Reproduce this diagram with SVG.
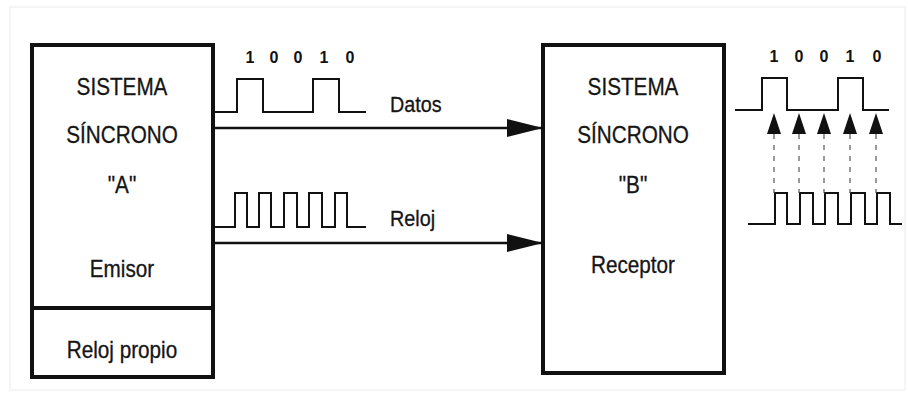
<svg xmlns="http://www.w3.org/2000/svg" width="908" height="393" viewBox="0 0 908 393">
<defs>
<style>
.t{font-family:"Liberation Sans",Arial,sans-serif;font-size:23px;fill:#151515;text-anchor:middle;stroke:#151515;stroke-width:0.3}
.l{font-family:"Liberation Sans",Arial,sans-serif;font-size:22px;fill:#151515;stroke:#151515;stroke-width:0.3}
.d{font-family:"Liberation Sans",Arial,sans-serif;font-size:16px;font-weight:bold;fill:#111;text-anchor:middle}
.box{fill:#fff;stroke:#111;stroke-width:4}
.w{fill:none;stroke:#111;stroke-width:2}
.c{fill:none;stroke:#111;stroke-width:2.5}
.dash{fill:none;stroke:#555;stroke-width:1.2;stroke-dasharray:5 6}
</style>
<marker id="ah" markerWidth="36" markerHeight="20" refX="36" refY="10" orient="auto" markerUnits="userSpaceOnUse">
<path d="M0,1 L36,10 L0,19 Z" fill="#111"/>
</marker>
</defs>
<rect x="0" y="0" width="908" height="393" fill="#fff"/>
<rect x="10" y="7" width="895" height="383" fill="none" stroke="#ececec" stroke-width="1"/>

<g id="sistemaA">
<rect class="box" x="32" y="45" width="181" height="332"/>
<line x1="32" y1="308" x2="213" y2="308" stroke="#111" stroke-width="4"/>
<text class="t" transform="translate(122,95) scale(0.9,1)">SISTEMA</text>
<text class="t" transform="translate(122,143) scale(0.9,1)">SÍNCRONO</text>
<text class="t" transform="translate(122,193) scale(0.9,1)">"A"</text>
<text class="t" transform="translate(122,277) scale(0.9,1)">Emisor</text>
<text class="t" transform="translate(122,358) scale(0.9,1)">Reloj propio</text>
</g>

<g id="sistemaB">
<rect class="box" x="543" y="45" width="181" height="328"/>
<text class="t" transform="translate(633,95) scale(0.9,1)">SISTEMA</text>
<text class="t" transform="translate(633,143) scale(0.9,1)">SÍNCRONO</text>
<text class="t" transform="translate(633,193) scale(0.9,1)">"B"</text>
<text class="t" transform="translate(633,273) scale(0.9,1)">Receptor</text>
</g>

<g id="senalDatos">
<text class="d" x="250" y="63">1</text>
<text class="d" x="274" y="63">0</text>
<text class="d" x="298" y="63">0</text>
<text class="d" x="324" y="63">1</text>
<text class="d" x="350" y="63">0</text>
<path class="w" d="M212,112 H237 V79 H263 V112 H313 V79 H339 V112 H366"/>
<text class="l" transform="translate(390,112) scale(0.9,1)">Datos</text>
</g>

<g id="senalReloj">
<path class="w" d="M212,227 H235 V193 H247 V227 H259 V193 H271 V227 H284 V193 H297 V227 H309 V193 H322 V227 H335 V193 H347 V227 H366"/>
<text class="l" transform="translate(390,226) scale(0.9,1)">Reloj</text>
</g>

<g id="conectores">
<line class="c" x1="213" y1="128" x2="543" y2="128" marker-end="url(#ah)"/>
<line class="c" x1="213" y1="243" x2="543" y2="243" marker-end="url(#ah)"/>
</g>

<g id="muestreo">
<text class="d" x="774" y="62">1</text>
<text class="d" x="799" y="62">0</text>
<text class="d" x="824" y="62">0</text>
<text class="d" x="850" y="62">1</text>
<text class="d" x="877" y="62">0</text>
<path class="w" d="M735,110 H762 V78 H787 V110 H838 V78 H863 V110 H889"/>
<path class="w" d="M748,224 H775 V193 H787 V224 H800 V193 H813 V224 H825 V193 H838 V224 H851 V193 H865 V224 H877 V193 H890 V224 H902"/>
<g class="dash">
<line x1="774" y1="134" x2="774" y2="193"/>
<line x1="799" y1="134" x2="799" y2="193"/>
<line x1="824" y1="134" x2="824" y2="193"/>
<line x1="850" y1="134" x2="850" y2="193"/>
<line x1="876" y1="134" x2="876" y2="193"/>
</g>
<g fill="#111">
<path d="M767,134 L774,113 L781,134 Z"/>
<path d="M792,134 L799,113 L806,134 Z"/>
<path d="M817,134 L824,113 L831,134 Z"/>
<path d="M843,134 L850,113 L857,134 Z"/>
<path d="M869,134 L876,113 L883,134 Z"/>
</g>
</g>
</svg>
